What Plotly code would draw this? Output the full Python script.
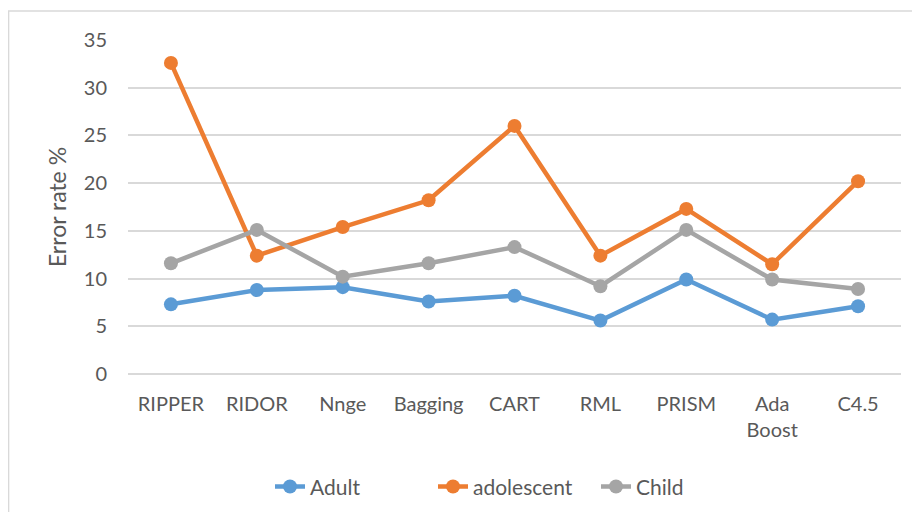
import plotly.graph_objects as go

# =====================================================
# DATA
# =====================================================

classifiers = ["RIPPER", "RIDOR", "Nnge", "Bagging", "CART",
               "RML", "PRISM", "Ada<br>Boost", "C4.5"]

adult = [7.3, 8.8, 9.1, 7.6, 8.2, 5.6, 9.9, 5.7, 7.1]
adolescent = [32.6, 12.4, 15.4, 18.2, 26.0, 12.4, 17.3, 11.5, 20.2]
child = [11.6, 15.1, 10.2, 11.6, 13.3, 9.2, 15.1, 9.9, 8.9]

series = [
    ("Adult", adult, "#5B9BD5"),
    ("adolescent", adolescent, "#ED7D31"),
    ("Child", child, "#A5A5A5"),
]

# =====================================================
# FIGURE
# =====================================================

fig = go.Figure()

for name, values, color in series:
    fig.add_trace(go.Scatter(
        x=classifiers,
        y=values,
        name=name,
        mode="lines+markers",
        line=dict(color=color, width=4.5),
        marker=dict(color=color, size=14)
    ))

# page body has an 8px margin, so the figure is a bit smaller than the window
fig.update_layout(
    width=904,
    height=504,
    margin=dict(l=120, r=11, t=32, b=138),
    paper_bgcolor="white",
    plot_bgcolor="white",
    font=dict(family="Lato, Open Sans, sans-serif", size=20, color="#595959"),
    showlegend=True,
    legend=dict(
        orientation="h",
        x=0.5,
        xanchor="center",
        yref="container",
        y=0.05,
        yanchor="middle",
        entrywidth=118,
        font=dict(size=21, color="#595959"),
    ),
    shapes=[dict(
        type="rect",
        xref="paper", yref="paper",
        x0=-0.1545, x1=1.05, y0=-0.6, y1=1.087,
        line=dict(color="#D9D9D9", width=1.5)
    )]
)

fig.update_xaxes(
    range=[-0.5, 8.5],
    showgrid=False,
    showline=False,
    ticks="",
    ticklabelstandoff=16,
    tickfont=dict(size=20, color="#595959")
)

fig.update_yaxes(
    range=[0, 35],
    dtick=5,
    showgrid=True,
    gridcolor="#D9D9D9",
    gridwidth=1.5,
    zeroline=True,
    zerolinecolor="#D9D9D9",
    zerolinewidth=1.5,
    showline=False,
    ticks="",
    ticklabelstandoff=20,
    tickfont=dict(size=20, color="#595959"),
    title=dict(text="Error rate %", font=dict(size=23, color="#595959"), standoff=10)
)

fig.write_html("out.html")
